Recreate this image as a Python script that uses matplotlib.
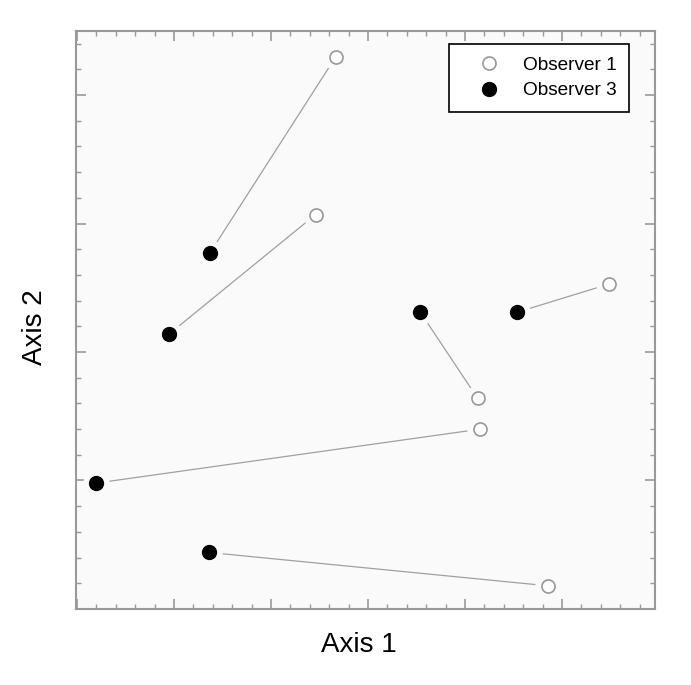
import numpy as np
import matplotlib.pyplot as plt
from matplotlib.ticker import MultipleLocator, NullFormatter

plt.rcParams['font.family'] = ['Liberation Sans', 'DejaVu Sans']

# observer 1 (open) and observer 3 (filled), paired by index
obs1_x = [1.67, 1.46, 4.49, 3.13, 3.16, 3.86]
obs1_y = [3.30, 2.07, 1.53, 0.64, 0.40, -0.82]
obs3_x = [0.37, -0.05, 3.54, 2.54, -0.80, 0.36]
obs3_y = [1.77, 1.14, 1.31, 1.31, -0.02, -0.56]

bg = "#fafafa"
grey = "#999999"

fig = plt.figure(figsize=(6.91, 6.85), dpi=100)
ax = fig.add_axes([0.110, 0.111, 0.838, 0.844])
ax.set_facecolor(bg)

for i in range(len(obs1_x)):
    ax.plot([obs3_x[i], obs1_x[i]], [obs3_y[i], obs1_y[i]], color="#a0a0a0", lw=0.9, zorder=1)

# halo so that connecting lines stop short of the markers
ax.plot(obs1_x, obs1_y, 'o', ms=18, color=bg, mec=bg, zorder=2)
ax.plot(obs3_x, obs3_y, 'o', ms=18, color=bg, mec=bg, zorder=2)

ax.plot(obs1_x, obs1_y, 'o', ms=9.4, mfc='white', mec=grey, mew=1.2, zorder=3, label="Observer 1")
ax.plot(obs3_x, obs3_y, 'o', ms=10, mfc='black', mec='black', zorder=3, label="Observer 3")

ax.set_xlim(-1.01, 4.96)
ax.set_ylim(-1.0, 3.50)

ax.xaxis.set_major_locator(MultipleLocator(1))
ax.xaxis.set_minor_locator(MultipleLocator(0.2))
ax.yaxis.set_major_locator(MultipleLocator(1))
ax.yaxis.set_minor_locator(MultipleLocator(0.2))
ax.xaxis.set_major_formatter(NullFormatter())
ax.yaxis.set_major_formatter(NullFormatter())
ax.tick_params(which='both', direction='in', top=True, right=True, color=grey)
ax.tick_params(which='major', length=7, width=1.2)
ax.tick_params(which='minor', length=3.5, width=1)
for s in ax.spines.values():
    s.set_color(grey)
    s.set_linewidth(1.5)

ax.set_xlabel("Axis 1", fontsize=20, labelpad=13)
ax.set_ylabel("Axis 2", fontsize=20, labelpad=17)
ax.xaxis.label.set_x(0.489)
ax.yaxis.label.set_y(0.488)

leg = ax.legend(loc='upper right', bbox_to_anchor=(0.955, 0.9775), borderaxespad=0,
                fontsize=13.7, frameon=True, fancybox=False, edgecolor='black',
                handlelength=2.9, handletextpad=0.35, borderpad=0.65, labelspacing=0.45)
leg.get_frame().set_linewidth(1.2)
leg.get_frame().set_facecolor('white')
leg.get_frame().set_alpha(1)

plt.savefig("out.png", dpi=100, facecolor='white')
